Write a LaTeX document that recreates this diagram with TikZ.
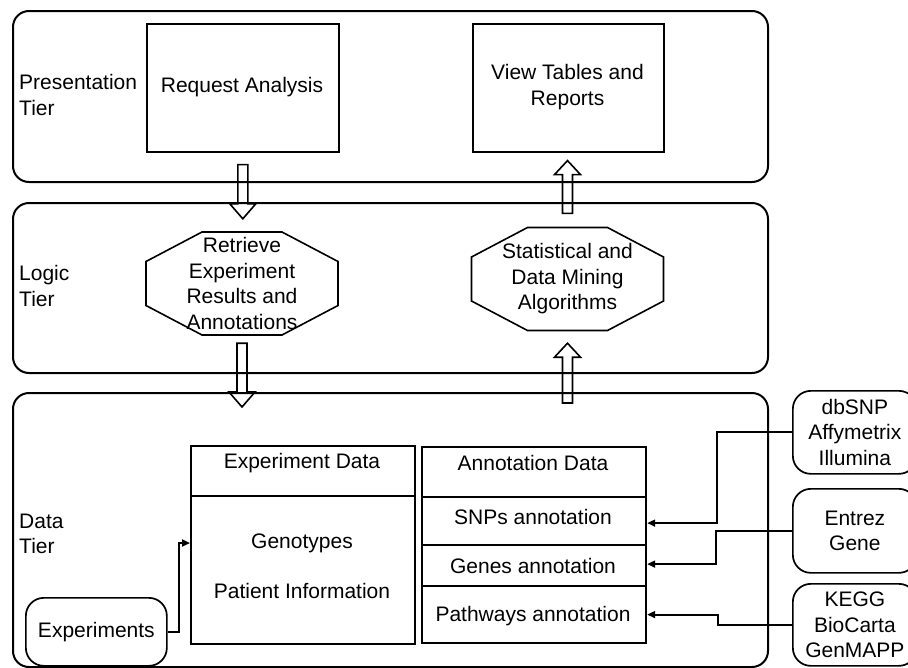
\documentclass[tikz,border=0pt]{standalone}
\usepackage{fontspec}
\setmainfont{Liberation Sans}
\usetikzlibrary{arrows.meta,calc}
\newcommand\blkdown[2]{\draw[blk] let \p1=#1, \p2=#2 in
  (\x1-5pt,\y1) -- (\x1+5pt,\y1) -- (\x1+5pt,\y2+15pt) -- (\x1+13pt,\y2+15pt)
  -- (\x1,\y2) -- (\x1-13pt,\y2+15pt) -- (\x1-5pt,\y2+15pt) -- cycle;}
\newcommand\blkup[2]{\draw[blk] let \p1=#1, \p2=#2 in
  (\x1-5pt,\y1) -- (\x1+5pt,\y1) -- (\x1+5pt,\y2-14pt) -- (\x1+13pt,\y2-14pt)
  -- (\x1,\y2) -- (\x1-13pt,\y2-14pt) -- (\x1-5pt,\y2-14pt) -- cycle;}
\begin{document}
\begin{tikzpicture}[x=1pt,y=-1pt,
  every node/.style={font=\fontsize{21}{25.5}\selectfont, align=center, inner sep=0pt},
  tier/.style={draw, line width=2pt, rounded corners=16pt, minimum width=755pt, anchor=north west},
  box/.style={draw, line width=1.6pt, minimum width=192pt, minimum height=128pt, anchor=north west},
  octa/.style={minimum width=192pt, minimum height=103pt},
  oct/.style={draw, line width=1.6pt, line join=miter},
  dbox/.style={draw, line width=2.2pt, minimum width=224pt, anchor=north west},
  src/.style={draw, line width=1.7pt, rounded corners=18pt, anchor=north west},
  conn/.style={line width=1.9pt, -{Triangle[length=8pt,width=7pt]}},
  blk/.style={draw, line width=1.6pt, line join=miter},
  lbl/.style={align=left, anchor=west}]
\useasboundingbox (0,0) rectangle (908,667);

% tiers
\node[tier, minimum height=171pt] (pt) at (12,10) {};
\node[tier, minimum height=170pt] (lt) at (12,202) {};
\node[tier, minimum height=274pt] (dt) at (12,392) {};
\node[lbl] (ptl) at (19,95) {Presentation\\Tier};
\node[lbl] (ltl) at (19,286) {Logic\\Tier};
\node[lbl] (dtl) at (19,534) {Data\\Tier};

% presentation boxes
\node[box] (ra) at (146,23) {};
\node (rat) at (242,87) {Request Analysis};
\node[box, minimum width=191pt] (vt) at (472,23) {};
\node (vtt) at (567.5,87) {View Tables and\\Reports};

% logic octagons
\node[octa] (ret) at (242,283.5) {Retrieve\\Experiment\\Results and\\Annotations};
\node[octa] (sta) at (567.5,279) {Statistical and\\Data Mining\\Algorithms};
\foreach \o in {ret,sta}{
  \draw[oct] ($(\o.center)+(-40,-51.5)$) -- ($(\o.center)+(40,-51.5)$)
    -- ($(\o.center)+(96,-22)$) -- ($(\o.center)+(96,22)$)
    -- ($(\o.center)+(40,51.5)$) -- ($(\o.center)+(-40,51.5)$)
    -- ($(\o.center)+(-96,22)$) -- ($(\o.center)+(-96,-22)$) -- cycle;
}

% block arrows
\blkdown{([yshift=-12pt]ra.south)}{([yshift=13pt]ret.north)}
\blkdown{([yshift=-8pt]ret.south)}{($(ret.south |- dt.north)+(0,15)$)}
\blkup{($(sta.south |- dt.north)+(0,11)$)}{([yshift=-12.5pt]sta.south)}
\blkup{([yshift=14pt]sta.north)}{([yshift=-8pt]vt.south)}

% data boxes
\node[dbox, minimum height=50pt] (edh) at (190,445) {};
\node[dbox, minimum height=148pt] (edb) at (190,495) {};
\node (edht) at (302,463) {Experiment Data};
\node (edbt) at (302,566.5) {Genotypes\\[25pt]Patient Information};

\node[dbox, minimum height=50pt] (anh) at (421,446) {};
\node[dbox, minimum height=48pt] (snp) at (421,496) {};
\node[dbox, minimum height=41pt] (gen) at (421,544) {};
\node[dbox, minimum height=57pt] (pw) at (421,585) {};
\node (anht) at (533,463) {Annotation Data};
\node (snpt) at (533,517) {SNPs annotation};
\node (gent) at (533,566) {Genes annotation};
\node (pwt) at (533,616) {Pathways annotation};

% sources
\node[src, minimum width=141pt, minimum height=68pt] (exp) at (25,597) {Experiments};
\node[src, minimum width=124pt, minimum height=83pt] (db) at (792,390) {dbSNP\\Affymetrix\\Illumina};
\node[src, minimum width=124pt, minimum height=84pt] (ez) at (792,488) {Entrez\\Gene};
\node[src, minimum width=124pt, minimum height=82pt] (kg) at (792,583) {KEGG\\BioCarta\\GenMAPP};

% connectors
\draw[conn] (exp.east) -- ++(11,0) |- ($(edb.north west)+(0,48)$);
\draw[conn] (db.west) -- ++(-75,0) |- ($(snp.east)+(0,2)$);
\draw[conn] (ez.west) -- ++(-76,0) |- ($(gen.east)+(0,-1.5)$);
\draw[conn] (kg.west) -- ++(-74,0) |- (pw.east);
\end{tikzpicture}
\end{document}
